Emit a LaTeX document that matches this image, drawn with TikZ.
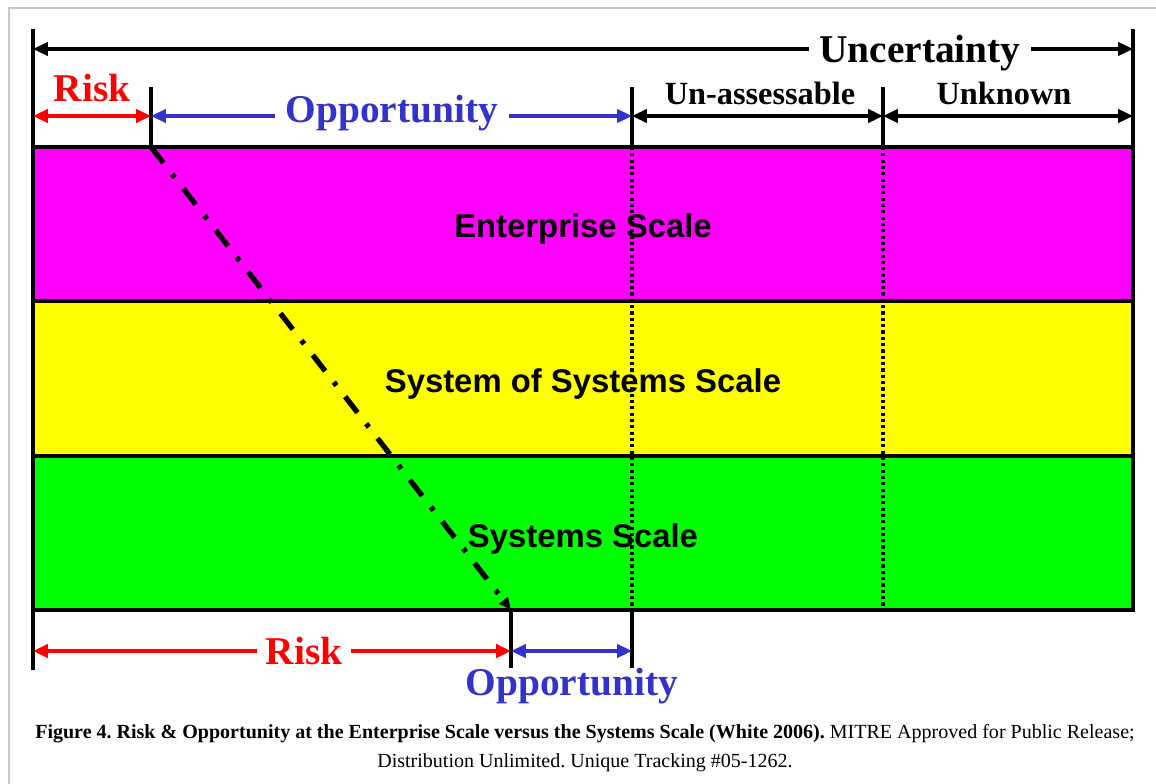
\documentclass[tikz,border=0pt]{standalone}
\usepackage{fontspec}
\setmainfont{Liberation Serif}
\setsansfont{Liberation Sans}
\usetikzlibrary{arrows.meta}
\definecolor{riskred}{RGB}{255,0,0}
\definecolor{oppblue}{RGB}{51,51,204}
\definecolor{entmag}{RGB}{255,0,255}
\definecolor{sosyel}{RGB}{255,255,0}
\definecolor{sysgreen}{RGB}{0,255,0}

\begin{document}
\frenchspacing
\begin{tikzpicture}[x=0.02cm, y=-0.02cm, >={Triangle[length=8.5pt,width=7.5pt]},
        tick/.style={line width=2.1pt},
        spanline/.style={line width=2.1pt},
        bandbox/.style={draw=black, line width=2pt},
        biglab/.style={font=\fontsize{22.4}{26}\selectfont\bfseries, inner xsep=4pt, inner ysep=0pt},
        midlab/.style={font=\fontsize{18.4}{22}\selectfont\bfseries, inner sep=0pt},
        scalelab/.style={font=\sffamily\bfseries\fontsize{18.7}{22}\selectfont, inner sep=0pt},
        dotline/.style={line width=2pt, dash pattern=on 1.8pt off 1.8pt},
        trend/.style={line width=3pt, dash pattern=on 11.5pt off 8pt on 2.5pt off 8pt}]
        \useasboundingbox (0,0) rectangle (1156,784);
        \fill[white] (0,0) rectangle (1156,784);
        \draw[black!22, line width=0.8pt] (9,784) -- (9,8) -- (1156,8);
        % scale bands
        \fill[entmag] (33,147) rectangle (1133,301);
        \fill[sosyel] (33,301) rectangle (1133,456);
        \fill[sysgreen] (33,456) rectangle (1133,610);
        \draw[bandbox] (33,147) rectangle (1133,610);
        \draw[bandbox] (33,301) -- (1133,301);
        \draw[bandbox] (33,456) -- (1133,456);
        \node[scalelab] (ent) at (583,229) {Enterprise Scale};
        \node[scalelab] (sos) at (583,384) {System of Systems Scale};
        \node[scalelab] (sys) at (583,539) {Systems Scale};
        % tick marks
        \coordinate (lTop) at (33,29);   \coordinate (lBot) at (33,670);
        \coordinate (rTop) at (1133,29); \coordinate (rBot) at (1133,610);
        \coordinate (aTop) at (151,87);  \coordinate (aBot) at (151,147);
        \coordinate (cTop) at (632,87);  \coordinate (cMid) at (632,147);
        \coordinate (cLow) at (632,610); \coordinate (cBot) at (632,668);
        \coordinate (dTop) at (883,87);  \coordinate (dMid) at (883,147);
        \coordinate (dLow) at (883,610);
        \coordinate (bTop) at (511,610); \coordinate (bBot) at (511,668);
        \draw[tick] (lTop) -- (lBot);
        \draw[tick] (rTop) -- (rBot);
        \draw[tick] (aTop) -- (aBot);
        \draw[tick] (cTop) -- (cMid);
        \draw[tick] (cLow) -- (cBot);
        \draw[tick] (dTop) -- (dMid);
        \draw[tick] (bTop) -- (bBot);
        \draw[dotline] (cMid) -- (cLow);
        \draw[dotline] (dMid) -- (dLow);
        % uncertainty
        \node[biglab, anchor=base, inner xsep=6pt] (unc) at (920,63) {Uncertainty};
        \draw[spanline, <-] (lTop |- 0,49) -- (unc.west |- 0,49);
        \draw[spanline, ->] (unc.east |- 0,49) -- (rTop |- 0,49);
        % enterprise scale spans
        \node[biglab, riskred, anchor=base] (riskT) at (92,102) {Risk};
        \draw[spanline, riskred, <->] (lTop |- 0,116) -- (aTop |- 0,116);
        \node[biglab, oppblue, anchor=base, inner xsep=6pt] (oppT) at (392,123) {Opportunity};
        \draw[spanline, oppblue, <-] (aTop |- 0,116) -- (oppT.west |- 0,116);
        \draw[spanline, oppblue, ->] (oppT.east |- 0,116) -- (cTop |- 0,116);
        \node[midlab, anchor=base] (unass) at (760,105) {Un-assessable};
        \draw[spanline, <->] (cTop |- 0,116) -- (dTop |- 0,116);
        \node[midlab, anchor=base] (unk) at (1004,105) {Unknown};
        \draw[spanline, <->] (dTop |- 0,116) -- (rTop |- 0,116);
        % systems scale spans
        \node[biglab, riskred, anchor=base, inner xsep=5pt] (riskB) at (304,664) {Risk};
        \draw[spanline, riskred, <-] (lBot |- 0,651) -- (riskB.west |- 0,651);
        \draw[spanline, riskred, ->] (riskB.east |- 0,651) -- (bBot |- 0,651);
        \draw[spanline, oppblue, <->] (bBot |- 0,651) -- (cBot |- 0,651);
        \node[biglab, oppblue, anchor=base] (oppB) at (572,695) {Opportunity};
        % risk/opportunity boundary
        \draw[trend, -{Triangle[length=7pt,width=6pt]}] (aBot) -- (bTop);
        % caption
        \node[font=\fontsize{11.4}{16.4}\selectfont, align=center, anchor=base] (cap) at (585,767)
            {\textbf{Figure 4. Risk \& Opportunity at the Enterprise Scale versus the Systems Scale (White 2006).} MITRE Approved for Public Release;\\
             Distribution Unlimited. Unique Tracking \#05-1262.};
    \end{tikzpicture}
\end{document}
